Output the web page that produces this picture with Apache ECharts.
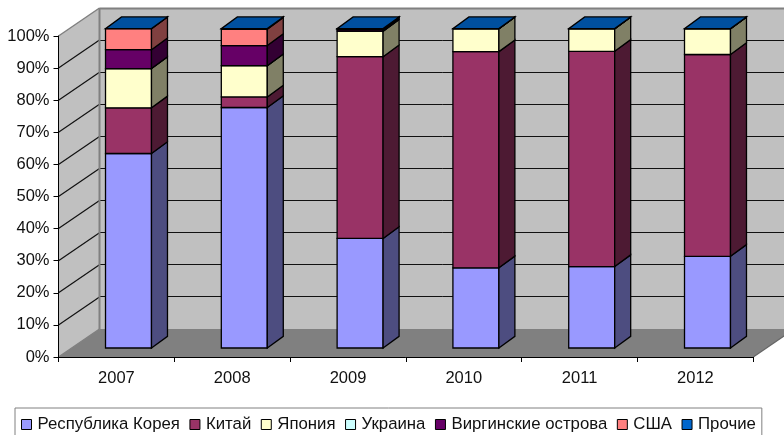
<!DOCTYPE html>
<html>
<head>
<meta charset="utf-8">
<style>
  html, body { margin: 0; padding: 0; background: #fff; overflow: hidden; }
  #chart { width: 784px; height: 435px; }
</style>
<script src="https://cdn.jsdelivr.net/npm/echarts@6/dist/echarts.min.js"></script>
</head>
<body>
<div id="chart"></div>
<script>
const years = ['2007', '2008', '2009', '2010', '2011', '2012'];
const tickValues = [0, 10, 20, 30, 40, 50, 60, 70, 80, 90, 100];

const korea = [60.9, 75.3, 34.3, 25.1, 25.5, 28.7];
const china = [14.3, 3.3, 56.9, 67.7, 67.4, 63.2];
const japan = [12.3, 9.8, 8.0, 7.2, 7.1, 8.1];
const ukraine = [0, 0, 0, 0, 0, 0];
const virgin = [5.9, 6.3, 0.5, 0, 0, 0];
const usa = [6.6, 5.1, 0.2, 0, 0, 0];
const others = [0, 0.2, 0.1, 0, 0, 0];

const SERIES = [
  { name: 'Республика Корея', values: korea, color: '#9999ff', side: '#4d4d80' },
  { name: 'Китай', values: china, color: '#993366', side: '#4d1a33' },
  { name: 'Япония', values: japan, color: '#ffffcc', side: '#808066' },
  { name: 'Украина', values: ukraine, color: '#ccffff', side: '#668080' },
  { name: 'Виргинские острова', values: virgin, color: '#660066', side: '#330033' },
  { name: 'США', values: usa, color: '#ff8080', side: '#804040' },
  { name: 'Прочие', values: others, color: '#0066cc', side: '#336699' },
];

// oblique depth of the fake 3d box
const DEPTH_X = 41;
const DEPTH_Y = -28;
// bar sits part way into the box
const BAR_WIDTH = 0.397;
const BAR_SHIFT = 12.1;
const BAR_LIFT = -9;
const BAR_DEPTH_X = 16;
const BAR_DEPTH_Y = -11.7;
const BAR_SCALE = 0.995;
const TOP_COLOR = '#00509f';

function poly(points, fill, lineWidth) {
  return {
    type: 'polygon',
    shape: { points },
    style: { fill, stroke: '#000', lineWidth: lineWidth || 1.3, lineJoin: 'miter' },
  };
}

function line(x1, y1, x2, y2, stroke, lineWidth) {
  return {
    type: 'line',
    shape: { x1, y1, x2, y2 },
    style: { stroke, lineWidth, fill: null },
  };
}

function renderWalls(params, api) {
  const g = params.coordSys;
  const left = g.x;
  const right = g.x + g.width;
  const base = api.coord([0, 0])[1];
  const top = api.coord([0, 100])[1];
  const children = [
    { type: 'polygon', shape: { points: [[left + DEPTH_X, top + DEPTH_Y], [right + DEPTH_X, top + DEPTH_Y], [right + DEPTH_X, base + DEPTH_Y], [left + DEPTH_X, base + DEPTH_Y]] }, style: { fill: '#c0c0c0' } },
    { type: 'polygon', shape: { points: [[left, top], [left + DEPTH_X, top + DEPTH_Y], [left + DEPTH_X, base + DEPTH_Y], [left, base]] }, style: { fill: '#c0c0c0' } },
    { type: 'polygon', shape: { points: [[left, base], [left + DEPTH_X, base + DEPTH_Y], [right + DEPTH_X, base + DEPTH_Y], [right, base]] }, style: { fill: '#808080' } },
  ];
  tickValues.forEach((t) => {
    const y = api.coord([0, t])[1];
    const edge = t === 0 || t === 100;
    const color = edge ? '#808080' : '#111';
    const width = edge ? 2 : 1;
    const backY = Math.floor(y + DEPTH_Y) + 0.5;
    if (t !== 0) children.push(line(left + DEPTH_X, backY, right + DEPTH_X, backY, color, width));
    children.push(line(left, y, left + DEPTH_X, y + DEPTH_Y, color, edge ? 1.5 : 1.2));
  });
  children.push(line(left + DEPTH_X, top + DEPTH_Y, left + DEPTH_X, base + DEPTH_Y, '#808080', 2));
  children.push(line(right, base, right + DEPTH_X, base + DEPTH_Y, '#666', 1.2));
  return { type: 'group', children };
}

function makeRenderBar(meta, isLast) {
  return function (params, api) {
    const i = api.value(0);
    const base = api.coord([i, 0]);
    const band = api.size([1, 0])[0];
    const w = band * BAR_WIDTH;
    const x0 = base[0] + BAR_SHIFT - w / 2;
    const x1 = x0 + w;
    const toY = (v) => base[1] + BAR_LIFT + (api.coord([i, v])[1] - base[1]) * BAR_SCALE;
    const y0 = toY(api.value(1));
    const y1 = toY(api.value(2));
    const children = [
      poly([[x0, y0], [x1, y0], [x1, y1], [x0, y1]], meta.color),
      poly([[x1, y0], [x1 + BAR_DEPTH_X, y0 + BAR_DEPTH_Y], [x1 + BAR_DEPTH_X, y1 + BAR_DEPTH_Y], [x1, y1]], meta.side),
    ];
    if (isLast) {
      children.push(poly([[x0, y1], [x1, y1], [x1 + BAR_DEPTH_X, y1 + BAR_DEPTH_Y], [x0 + BAR_DEPTH_X, y1 + BAR_DEPTH_Y]], TOP_COLOR));
    }
    return { type: 'group', children };
  };
}

function buildSeries() {
  const running = years.map(() => 0);
  const bars = SERIES.map((meta, idx) => {
    const data = years.map((y, i) => {
      const start = running[i];
      running[i] += meta.values[i];
      return [i, start, running[i]];
    });
    return {
      name: meta.name,
      type: 'custom',
      z: 2 + idx,
      silent: true,
      itemStyle: { color: meta.color },
      encode: { x: 0, y: [1, 2] },
      renderItem: makeRenderBar(meta, idx === SERIES.length - 1),
      data,
    };
  });
  const walls = {
    name: 'walls',
    type: 'custom',
    z: -1,
    silent: true,
    encode: { x: 0, y: 1 },
    renderItem: renderWalls,
    data: [[0, 0]],
  };
  return [walls].concat(bars);
}

const chart = echarts.init(document.getElementById('chart'), null, { renderer: 'canvas' });
const FONT = '"Liberation Sans", Arial, sans-serif';

chart.setOption({
  animation: false,
  backgroundColor: '#fff',
  textStyle: { fontFamily: FONT },
  grid: { left: 58.5, top: 36, width: 694.8, height: 321, containLabel: false },
  legend: {
    left: 15,
    top: 408,
    orient: 'horizontal',
    backgroundColor: '#fff',
    borderColor: '#808080',
    borderWidth: 1,
    padding: [8, 6, 10, 6],
    itemWidth: 10,
    itemHeight: 10,
    itemGap: 9.5,
    selectedMode: false,
    textStyle: { fontFamily: FONT, fontSize: 16.8, color: '#111', padding: [0, 0, 0, 1] },
    data: SERIES.map((s) => ({
      name: s.name,
      icon: 'rect',
      itemStyle: { color: s.color, borderColor: '#000', borderWidth: 1 },
    })),
  },
  xAxis: {
    type: 'category',
    data: years,
    boundaryGap: true,
    axisLine: { lineStyle: { color: '#000', width: 1 } },
    axisTick: { show: true, length: 5, alignWithLabel: false, lineStyle: { color: '#000' } },
    axisLabel: { color: '#111', fontSize: 16.5, margin: 13, fontFamily: FONT },
    splitLine: { show: false },
  },
  yAxis: {
    type: 'value',
    min: 0,
    max: 100,
    interval: 10,
    axisLine: { show: true, lineStyle: { color: '#000', width: 1 } },
    axisTick: { show: true, length: 5, lineStyle: { color: '#000' } },
    axisLabel: { color: '#111', fontSize: 16.5, margin: 9, formatter: '{value}%', fontFamily: FONT, padding: [6, 0, 0, 0] },
    splitLine: { show: false },
  },
  series: buildSeries(),
});

window.addEventListener('resize', () => chart.resize());
</script>
</body>
</html>
